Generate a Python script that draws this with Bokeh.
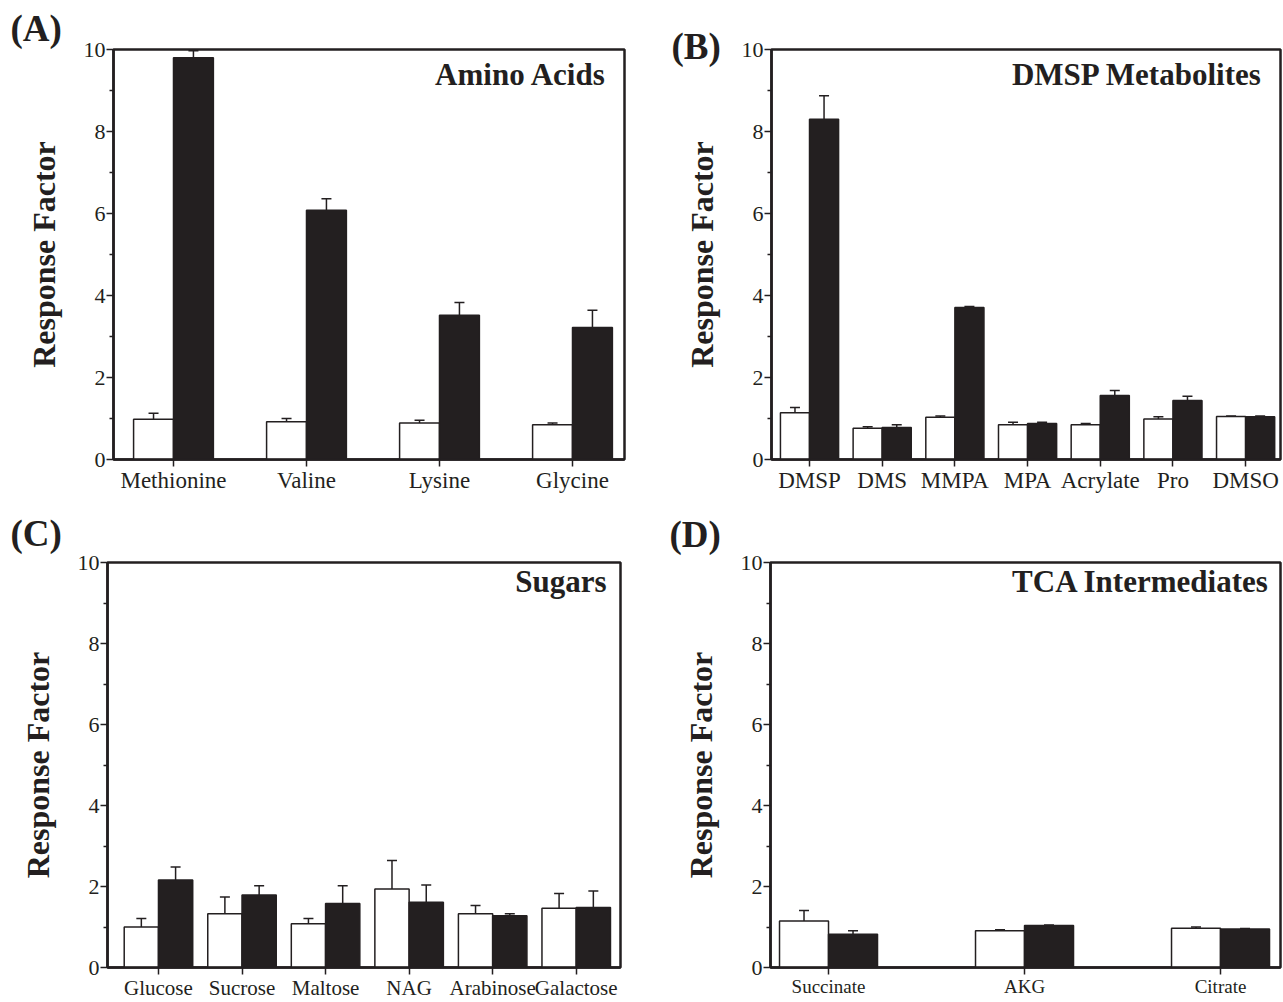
from bokeh.plotting import figure
from bokeh.models import FixedTicker, Whisker, TeeHead, ColumnDataSource, Label, Range1d
from bokeh.layouts import row, column
from bokeh.embed import file_html
from bokeh.resources import INLINE

# ---------------- data ----------------
amino_names = ["Methionine", "Valine", "Lysine", "Glycine"]
amino_ctrl = [0.98, 0.92, 0.89, 0.85]
amino_ctrl_err = [0.15, 0.08, 0.07, 0.04]
amino_treat = [9.80, 6.08, 3.52, 3.22]
amino_treat_err = [0.17, 0.28, 0.31, 0.42]

dmsp_names = ["DMSP", "DMS", "MMPA", "MPA", "Acrylate", "Pro", "DMSO"]
dmsp_ctrl = [1.14, 0.76, 1.03, 0.85, 0.85, 0.99, 1.05]
dmsp_ctrl_err = [0.13, 0.04, 0.03, 0.06, 0.03, 0.05, 0.01]
dmsp_treat = [8.30, 0.78, 3.71, 0.88, 1.56, 1.44, 1.04]
dmsp_treat_err = [0.57, 0.07, 0.02, 0.03, 0.12, 0.10, 0.02]

sugar_names = ["Glucose", "Sucrose", "Maltose", "NAG", "Arabinose", "Galactose"]
sugar_ctrl = [1.00, 1.33, 1.08, 1.94, 1.33, 1.46]
sugar_ctrl_err = [0.21, 0.41, 0.13, 0.70, 0.20, 0.37]
sugar_treat = [2.16, 1.79, 1.58, 1.61, 1.28, 1.48]
sugar_treat_err = [0.32, 0.23, 0.44, 0.43, 0.05, 0.41]

tca_names = ["Succinate", "AKG", "Citrate"]
tca_ctrl = [1.15, 0.91, 0.97]
tca_ctrl_err = [0.26, 0.02, 0.03]
tca_treat = [0.82, 1.04, 0.95]
tca_treat_err = [0.09, 0.01, 0.01]

y_ticks = [0, 2, 4, 6, 8, 10]
y_minor = [1, 3, 5, 7, 9]

INK = "#231f20"
SERIF = "Liberation Serif"


def make_panel(names, ctrl, ctrl_err, treat, treat_err, *, bar_w, xr, width, height,
               borders, cat_size, title, title_pos, letter, letter_pos):
    bl, br, bt, bb = borders
    p = figure(width=width, height=height, x_range=Range1d(*xr), y_range=Range1d(0, 10),
               output_backend="svg", toolbar_location=None,
               min_border_left=bl, min_border_right=br, min_border_top=bt, min_border_bottom=bb)
    p.grid.visible = False
    p.outline_line_color = INK
    p.outline_line_width = 2.5
    p.background_fill_color = "white"
    p.border_fill_color = "white"

    idx = list(range(1, len(names) + 1))
    xc = [i - bar_w / 2 for i in idx]
    xt = [i + bar_w / 2 for i in idx]
    p.vbar(x=xc, top=ctrl, width=bar_w, bottom=0, fill_color="white",
           line_color=INK, line_width=1.5)
    p.vbar(x=xt, top=treat, width=bar_w, bottom=0, fill_color=INK,
           line_color=INK, line_width=1.5)

    for xs, vals, errs in ((xc, ctrl, ctrl_err), (xt, treat, treat_err)):
        src = ColumnDataSource(dict(base=xs, lower=vals,
                                    upper=[v + e for v, e in zip(vals, errs)]))
        w = Whisker(base="base", lower="lower", upper="upper", source=src,
                    dimension="height", line_color=INK, line_width=1.5,
                    upper_head=TeeHead(size=10, line_color=INK, line_width=1.5),
                    lower_head=None)
        p.add_layout(w)

    # x axis
    xa = p.xaxis[0]
    xa.ticker = FixedTicker(ticks=idx)
    xa.major_label_overrides = {i: n for i, n in zip(idx, names)}
    xa.major_tick_in = 0
    xa.major_tick_out = 7
    xa.minor_tick_line_color = None
    xa.axis_line_width = 2.5
    xa.axis_line_color = INK
    xa.major_tick_line_width = 1.5
    xa.major_tick_line_color = INK
    xa.major_label_text_font = SERIF
    xa.major_label_text_font_size = f"{cat_size}px"
    xa.major_label_text_color = INK
    xa.major_label_standoff = 1

    # y axis
    ya = p.yaxis[0]
    ya.ticker = FixedTicker(ticks=y_ticks, minor_ticks=y_minor)
    ya.major_tick_in = 0
    ya.major_tick_out = 7
    ya.minor_tick_in = 0
    ya.minor_tick_out = 4
    ya.axis_line_width = 2.5
    ya.axis_line_color = INK
    ya.major_tick_line_width = 1.5
    ya.minor_tick_line_width = 1.5
    ya.major_tick_line_color = INK
    ya.minor_tick_line_color = INK
    ya.major_label_text_font = SERIF
    ya.major_label_text_font_size = "22px"
    ya.major_label_text_color = INK
    ya.major_label_standoff = 1
    ya.axis_label = "Response Factor"
    ya.axis_label_text_font = SERIF
    ya.axis_label_text_font_style = "bold"
    ya.axis_label_text_font_size = "32px"
    ya.axis_label_text_color = INK
    ya.axis_label_standoff = 19

    tx, ty = title_pos
    p.add_layout(Label(x=tx, y=ty, x_units="screen", y_units="screen", text=title,
                       text_align="right", text_baseline="alphabetic",
                       text_font=SERIF, text_font_style="bold", text_font_size="31px",
                       text_color=INK))
    lx, ly = letter_pos
    p.add_layout(Label(x=lx, y=ly, x_units="screen", y_units="screen", text=letter,
                       text_align="left", text_baseline="middle",
                       text_font=SERIF, text_font_style="bold", text_font_size="37px",
                       text_color=INK), "above")
    return p


pA = make_panel(amino_names, amino_ctrl, amino_ctrl_err, amino_treat, amino_treat_err,
                bar_w=0.3, xr=(0.549, 4.391), width=640, height=505,
                borders=(113, 16, 49, 46), cat_size=23,
                title="Amino Acids", title_pos=(493, 385),
                letter="(A)", letter_pos=(-103, 21))

pB = make_panel(dmsp_names, dmsp_ctrl, dmsp_ctrl_err, dmsp_treat, dmsp_treat_err,
                bar_w=0.4, xr=(0.477, 7.48), width=643, height=505,
                borders=(131, 3, 49, 46), cat_size=23,
                title="DMSP Metabolites", title_pos=(491, 385),
                letter="(B)", letter_pos=(-100, 3))

pC = make_panel(sugar_names, sugar_ctrl, sugar_ctrl_err, sugar_treat, sugar_treat_err,
                bar_w=0.41, xr=(0.39, 6.53), width=640, height=497,
                borders=(107, 20, 55, 35), cat_size=21,
                title="Sugars", title_pos=(499, 386),
                letter="(C)", letter_pos=(-97, 29))

pD = make_panel(tca_names, tca_ctrl, tca_ctrl_err, tca_treat, tca_treat_err,
                bar_w=0.25, xr=(0.704, 3.306), width=643, height=497,
                borders=(130, 3, 57, 30), cat_size=19,
                title="TCA Intermediates", title_pos=(499, 386),
                letter="(D)", letter_pos=(-101, 28))

layout = column(row(pA, pB), row(pC, pD))
open("out.html", "w").write(file_html(layout, INLINE))
